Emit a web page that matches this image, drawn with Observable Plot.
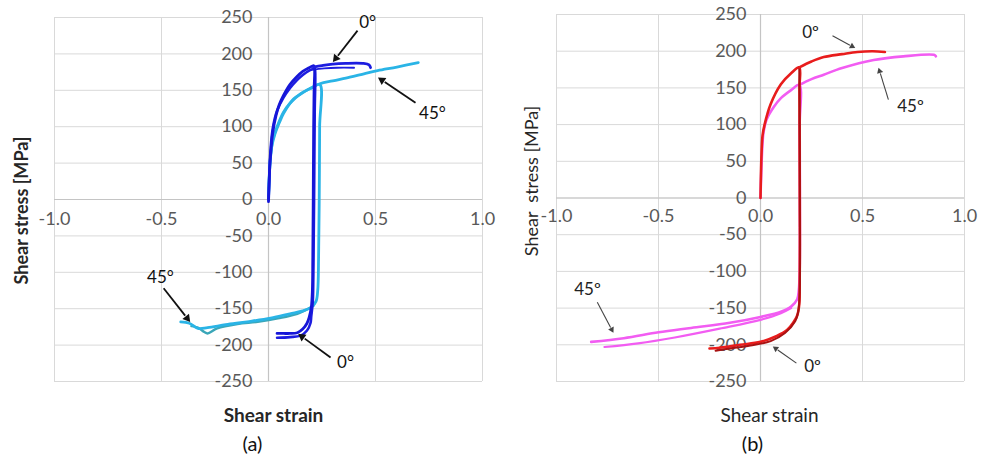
<!DOCTYPE html>
<html>
<head>
<meta charset="utf-8">
<script src="https://cdn.jsdelivr.net/npm/d3@7"></script>
<script src="https://cdn.jsdelivr.net/npm/@observablehq/plot@0.6"></script>
<style>
  html, body { margin: 0; padding: 0; background: #fff; }
  #wrap { position: relative; width: 984px; height: 457px; overflow: hidden; background: #fff; }
  #pa { position: absolute; left: 0; top: 0; }
  #pb { position: absolute; left: 500px; top: 0; }
  svg text { white-space: pre; }
</style>
</head>
<body>
<div id="wrap"><div id="pa"></div><div id="pb"></div></div>
<script>
// ---------- tick values ----------
const xTicks = [-1.0, -0.5, 0.0, 0.5, 1.0];
const yTicks = [-250, -200, -150, -100, -50, 0, 50, 100, 150, 200, 250];

// ---------- panel (a): 0° (dark blue) ----------
const a0Cyclic1 = [[0,-3],[0.003,20],[0.006,45],[0.01,62],[0.02,92],[0.035,115],[0.05,130],[0.07,143],[0.1,158],[0.13,168],[0.16,176],[0.19,181],[0.21,184],[0.214,183],
  [0.213,150],[0.211,100],[0.209,0],[0.207,-80],[0.205,-125],[0.2,-148],[0.19,-162],[0.18,-170],[0.16,-178],[0.135,-183],[0.1,-184],[0.07,-184],[0.04,-184]];
const a0Cyclic2 = [[0,0],[0.004,35],[0.01,70],[0.02,98],[0.04,122],[0.07,140],[0.1,153],[0.13,163],[0.16,171],[0.19,177],[0.215,180],[0.218,176],
  [0.216,120],[0.213,0],[0.21,-90],[0.207,-140],[0.2,-160],[0.196,-170],[0.18,-180],[0.15,-187],[0.1,-189],[0.04,-190]];
const a0Mono1 = [[0.21,182],[0.25,184],[0.3,186],[0.36,187],[0.44,187],[0.47,185],[0.477,181]];
const a0Mono2 = [[0.2,178],[0.26,180],[0.32,181],[0.4,181]];

// ---------- panel (a): 45° (light blue) ----------
const a45Cyclic1 = [[0,0],[0.005,40],[0.01,60],[0.02,82],[0.04,100],[0.07,120],[0.1,132],[0.15,145],[0.2,153],[0.24,158],
  [0.239,100],[0.237,0],[0.234,-80],[0.23,-125],[0.222,-140],[0.2,-148],[0.16,-153],[0.1,-157],[0.01,-163],[-0.1,-168],[-0.2,-172],[-0.285,-176],[-0.33,-177],[-0.37,-170],[-0.41,-168]];
const a45Cyclic2 = [[0.21,-146],[0.18,-151],[0.135,-157],[0.05,-163],[-0.05,-168],[-0.145,-171],[-0.24,-177],[-0.285,-184],[-0.3,-182],[-0.33,-176],[-0.36,-174]];
const a45Mono = [[0,0],[0.006,45],[0.015,72],[0.03,90],[0.05,105],[0.07,118],[0.117,138],[0.15,145],[0.24,159],[0.3,163],[0.38,168],[0.45,173],[0.51,177],[0.6,182],[0.7,188]];

// ---------- panel (b): 0° (red) ----------
const b0Cyclic1 = [[0,0],[0.002,30],[0.005,60],[0.01,85],[0.02,100],[0.05,128],[0.1,155],[0.15,170],[0.19,178],
  [0.191,150],[0.192,50],[0.193,-50],[0.192,-120],[0.19,-145],[0.18,-160],[0.16,-170],[0.13,-180],[0.08,-188],[0.0,-196],[-0.1,-200],[-0.2,-204],[-0.25,-205]];
const b0Cyclic2 = [[0.19,178],[0.191,150],[0.193,0],[0.192,-130],[0.185,-155],[0.17,-168],[0.12,-184],[0.05,-195],[-0.05,-201],[-0.15,-205],[-0.22,-208]];
const b0Mono = [[0.19,178],[0.25,186],[0.31,192],[0.4,196],[0.475,199],[0.55,200],[0.61,199]];

// ---------- panel (b): 45° (magenta) ----------
const b45Cyclic1 = [[0,0],[0.002,20],[0.005,45],[0.01,75],[0.015,90],[0.03,107],[0.065,124],[0.1,136],[0.15,147],[0.19,154],
  [0.192,100],[0.193,0],[0.192,-100],[0.188,-125],[0.18,-138],[0.15,-148],[0.1,-155],[0.0,-162],[-0.15,-170],[-0.34,-177],[-0.5,-183],[-0.67,-191],[-0.83,-196]];
const b45Cyclic2 = [[0.15,-150],[0.1,-157],[0.0,-166],[-0.2,-178],[-0.42,-190],[-0.6,-198],[-0.765,-203]];
const b45Mono = [[0.19,154],[0.25,162],[0.31,168],[0.4,177],[0.555,188],[0.7,193],[0.85,195],[0.86,193]];

// ---------- annotations ----------
const aArrows = [
  {x1:0.416, y1:232, x2:0.299, y2:188},
  {x1:0.687, y1:133, x2:0.509, y2:168},
  {x1:-0.49, y1:-122, x2:-0.364, y2:-169},
  {x1:0.29, y1:-217, x2:0.136, y2:-184}
];
const aLabels = [
  {x:0.463, y:243, t:"0°"},
  {x:0.766, y:118, t:"45°"},
  {x:-0.505, y:-107, t:"45°"},
  {x:0.36, y:-224, t:"0°"}
];
const bArrows = [
  {x1:0.353, y1:221, x2:0.466, y2:204},
  {x1:0.627, y1:134, x2:0.578, y2:178},
  {x1:-0.80, y1:-142, x2:-0.72, y2:-184},
  {x1:0.176, y1:-225, x2:0.059, y2:-202}
];
const bLabels = [
  {x:0.245, y:226, t:"0º"},
  {x:0.735, y:124, t:"45º"},
  {x:-0.848, y:-125, t:"45º"},
  {x:0.255, y:-229, t:"0º"}
];

const FONT = "Lato, Carlito, 'Open Sans', sans-serif";
const GRID = "#d9d9d9";
const AXIS = "#c4c4c4";
const TICK = "#595959";

function curve(data, color, w = 2.5) {
  return Plot.line(data, {x: d => d[0], y: d => d[1], stroke: color, strokeWidth: w, curve: "catmull-rom", strokeLinejoin: "round", strokeLinecap: "round"});
}

function basePanel(opts) {
  return [
    Plot.ruleX(xTicks, {stroke: GRID, strokeWidth: 1}),
    Plot.ruleY(yTicks, {stroke: GRID, strokeWidth: 1}),
    Plot.ruleX([0], {stroke: AXIS, strokeWidth: 1.2}),
    Plot.ruleY([0], {stroke: AXIS, strokeWidth: 1.2}),
    Plot.text(yTicks, {x: 0, y: d => d, text: d => String(d), textAnchor: "end", dx: opts.ydx, fill: TICK, fontSize: 18}),
    Plot.text(xTicks, {x: d => d, y: 0, text: d => d.toFixed(1), dy: opts.xdy, fill: TICK, fontSize: 18})
  ];
}

// arrows with filled triangular heads: shaft (link) + triangle (dot), angle from the plot's layout
function arrowMarks(arrows, dims, color, width, headR, headBack) {
  const kx = (dims.width - dims.ml - dims.mr) / 2;      // px per strain unit
  const ky = (dims.height - dims.mt - dims.mb) / 500;   // px per MPa
  const heads = arrows.map(a => {
    const sx = (a.x2 - a.x1) * kx, sy = -(a.y2 - a.y1) * ky;
    const len = Math.hypot(sx, sy);
    const ux = sx / len, uy = sy / len;
    const ang = Math.atan2(ux, -uy) * 180 / Math.PI;
    return {
      x1: a.x1, y1: a.y1,
      cx: a.x2 - ux * headBack / kx, cy: a.y2 + uy * headBack / ky,
      bx: a.x2 - ux * headBack * 1.6 / kx, by: a.y2 + uy * headBack * 1.6 / ky,
      ang
    };
  });
  return [
    Plot.link(heads, {x1: "x1", y1: "y1", x2: "bx", y2: "by", stroke: color, strokeWidth: width}),
    Plot.dot(heads, {x: "cx", y: "cy", symbol: "triangle2", r: headR, fill: color, stroke: "none", rotate: "ang"})
  ];
}

const dimsA = {width: 500, height: 457, ml: 54, mr: 18, mt: 17, mb: 76};
const dimsB = {width: 484, height: 457, ml: 56, mr: 20, mt: 14, mb: 76};

// Panel (a)
const plotA = Plot.plot({
  width: dimsA.width, height: dimsA.height,
  marginLeft: dimsA.ml, marginRight: dimsA.mr, marginTop: dimsA.mt, marginBottom: dimsA.mb,
  x: {domain: [-1, 1], axis: null},
  y: {domain: [-250, 250], axis: null},
  style: {fontFamily: FONT, background: "white", overflow: "visible"},
  marks: [
    ...basePanel({ydx: -16, xdy: 20}),
    curve(a45Mono, "#2ab4e6", 2.8),
    curve(a45Cyclic2, "#3aa6b8", 2.4),
    curve(a45Cyclic1, "#2ab4e6", 2.8),
    curve(a0Mono2, "#1d1de0", 1.8),
    curve(a0Cyclic2, "#1d1de0", 2.6),
    curve(a0Cyclic1, "#1616d8", 2.8),
    curve(a0Mono1, "#1d1de0", 2.8),
    ...arrowMarks(aArrows, dimsA, "#111", 1.8, 4, 5.5),
    Plot.text(aLabels, {x: "x", y: "y", text: "t", fontSize: 17, fill: "#111"}),
    Plot.text(["Shear stress [MPa]"], {frameAnchor: "left", textAnchor: "middle", lineAnchor: "middle", rotate: -90, dx: -32, dy: 11, fontSize: 18, fontWeight: "bold", fill: "#262626"}),
    Plot.text(["Shear strain"], {frameAnchor: "bottom", textAnchor: "middle", lineAnchor: "middle", dx: 5, dy: 34, fontSize: 19, fontWeight: "bold", fill: "#262626"}),
    Plot.text(["(a)"], {frameAnchor: "bottom", textAnchor: "middle", lineAnchor: "middle", dx: -16, dy: 63, fontSize: 20, fill: "#111"})
  ]
});
document.getElementById("pa").appendChild(plotA);

// Panel (b)
const plotB = Plot.plot({
  width: dimsB.width, height: dimsB.height,
  marginLeft: dimsB.ml, marginRight: dimsB.mr, marginTop: dimsB.mt, marginBottom: dimsB.mb,
  x: {domain: [-1, 1], axis: null},
  y: {domain: [-250, 250], axis: null},
  style: {fontFamily: FONT, background: "white", overflow: "visible"},
  marks: [
    ...basePanel({ydx: -14, xdy: 18}),
    curve(b45Mono, "#f25cf2", 2.6),
    curve(b45Cyclic2, "#f25cf2", 2.2),
    curve(b45Cyclic1, "#f25cf2", 2.6),
    curve(b0Cyclic1, "#e81c1c", 2.6),
    curve(b0Cyclic2, "#a81212", 2.0),
    curve(b0Mono, "#e81c1c", 2.6),
    ...arrowMarks(bArrows, dimsB, "#444", 1.1, 3, 4),
    Plot.text(bLabels, {x: "x", y: "y", text: "t", fontSize: 17, fill: "#222"}),
    Plot.text(["Shear  stress [MPa]"], {frameAnchor: "left", textAnchor: "middle", lineAnchor: "middle", rotate: -90, dx: -24, dy: -17, fontSize: 18, fill: "#262626"}),
    Plot.text(["Shear strain"], {frameAnchor: "bottom", textAnchor: "middle", lineAnchor: "middle", dx: 9, dy: 34, fontSize: 19, fill: "#262626"}),
    Plot.text(["(b)"], {frameAnchor: "bottom", textAnchor: "middle", lineAnchor: "middle", dx: -8, dy: 63, fontSize: 20, fill: "#111"})
  ]
});
document.getElementById("pb").appendChild(plotB);
</script>
</body>
</html>
